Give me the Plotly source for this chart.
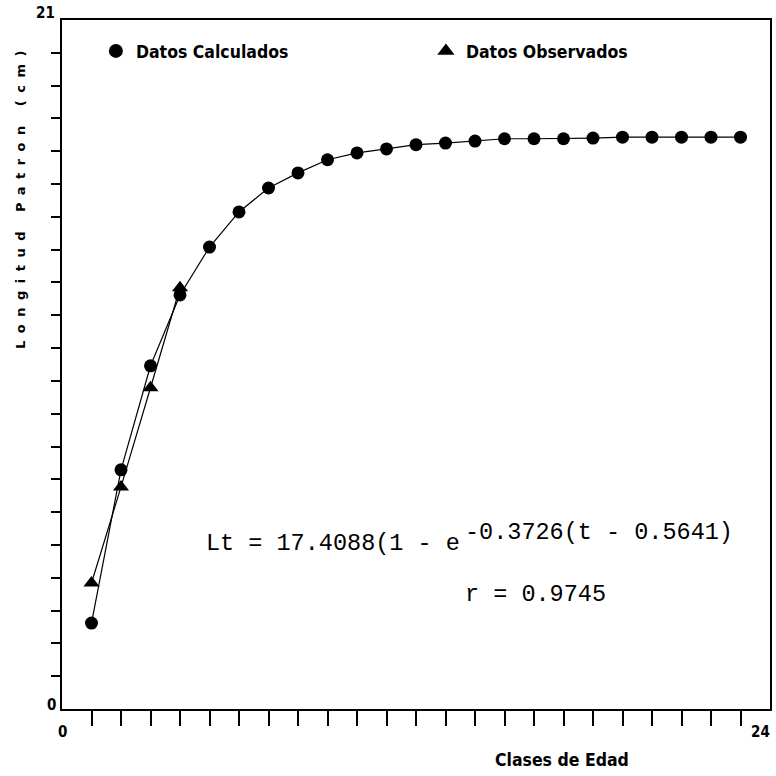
import plotly.graph_objects as go

# ---- data ----
edad = list(range(1, 24))
calculados = [2.62, 7.29, 10.46, 12.62, 14.08, 15.15, 15.88, 16.34, 16.74, 16.95,
              17.07, 17.20, 17.25, 17.31, 17.38, 17.38, 17.38, 17.40, 17.43, 17.43,
              17.43, 17.43, 17.43]
edad_obs = [1, 2, 3, 4]
observados = [3.84, 6.77, 9.79, 12.84]

x_ticks = list(range(1, 24))
y_ticks = list(range(1, 21))

SANS = "DejaVu Sans Condensed, DejaVu Sans, sans-serif"
MONO = "Liberation Mono, Courier New, monospace"

fig = go.Figure()
fig.add_trace(go.Scatter(x=edad, y=calculados, mode="lines+markers",
                         line=dict(color="black", width=1.2),
                         marker=dict(symbol="circle", size=13, color="black"),
                         showlegend=False, name="Datos Calculados"))
fig.add_trace(go.Scatter(x=edad_obs, y=observados, mode="lines+markers",
                         line=dict(color="black", width=1.2),
                         marker=dict(symbol="triangle-up", size=14, color="black"),
                         showlegend=False, name="Datos Observados"))
# legend entries (marker only)
fig.add_trace(go.Scatter(x=[None], y=[None], mode="markers",
                         marker=dict(symbol="circle", size=14, color="black"),
                         name="Datos Calculados"))
fig.add_trace(go.Scatter(x=[None], y=[None], mode="markers",
                         marker=dict(symbol="triangle-up", size=15, color="black"),
                         name="Datos Observados"))

annotations = [
    dict(text="Lt = 17.4088(1 - e", x=4.80, y=5.05, xref="x", yref="y",
         xanchor="left", yanchor="middle", showarrow=False,
         font=dict(family=MONO, size=23.5, color="black")),
    dict(text="-0.3726(t - 0.5641)", x=13.6, y=5.38, xref="x", yref="y",
         xanchor="left", yanchor="middle", showarrow=False,
         font=dict(family=MONO, size=23.5, color="black")),
    dict(text="r = 0.9745", x=13.58, y=3.5, xref="x", yref="y",
         xanchor="left", yanchor="middle", showarrow=False,
         font=dict(family=MONO, size=23.5, color="black")),
    # axis end labels
    dict(text="<b>21</b>", x=0, y=1, xref="paper", yref="paper", xshift=-5, yshift=7,
         xanchor="right", yanchor="middle", showarrow=False,
         font=dict(family=SANS, size=15, color="black")),
    dict(text="<b>0</b>", x=0, y=0, xref="paper", yref="paper", xshift=-4, yshift=4,
         xanchor="right", yanchor="middle", showarrow=False,
         font=dict(family=SANS, size=15, color="black")),
    dict(text="<b>0</b>", x=0, y=0, xref="paper", yref="paper", xshift=0, yshift=-23,
         xanchor="center", yanchor="middle", showarrow=False,
         font=dict(family=SANS, size=15, color="black")),
    dict(text="<b>24</b>", x=1, y=0, xref="paper", yref="paper", xshift=2, yshift=-23,
         xanchor="right", yanchor="middle", showarrow=False,
         font=dict(family=SANS, size=15, color="black")),
    # axis titles
    dict(text="<b>Clases de Edad</b>", x=(563 - 62) / 710, y=0, xref="paper", yref="paper",
         yshift=-51, xanchor="center", yanchor="middle", showarrow=False,
         font=dict(family=SANS, size=17.5, color="black")),
    dict(text='<span style="letter-spacing:7.5px"><b>Longitud Patron (cm)</b></span>',
         x=0, y=(709 - 196) / 689, xref="paper", yref="paper", xshift=-42,
         textangle=-90, xanchor="center", yanchor="middle", showarrow=False,
         font=dict(family="DejaVu Sans, sans-serif", size=13, color="black")),
]

fig.update_layout(
    width=776, height=776,
    margin=dict(l=62, r=4, t=20, b=67, pad=0),
    paper_bgcolor="white", plot_bgcolor="white",
    showlegend=True,
    legend=dict(orientation="h", x=(96 - 62) / 710, y=(709 - 51) / 689,
                xanchor="left", yanchor="middle", bgcolor="rgba(0,0,0,0)",
                borderwidth=0, entrywidth=285, entrywidthmode="pixels",
                font=dict(family=SANS, size=17.5, color="black", weight="bold")),
    xaxis=dict(range=[0, 24], showgrid=False, zeroline=False, showline=True,
               linecolor="black", linewidth=2, mirror=True,
               ticks="outside", tickvals=x_ticks, ticklen=15, tickwidth=2,
               tickcolor="black", showticklabels=False),
    yaxis=dict(range=[0, 21], showgrid=False, zeroline=False, showline=True,
               linecolor="black", linewidth=2, mirror=True,
               ticks="outside", tickvals=y_ticks, ticklen=9, tickwidth=2,
               tickcolor="black", showticklabels=False),
    annotations=annotations,
)

fig.write_html("out.html")
